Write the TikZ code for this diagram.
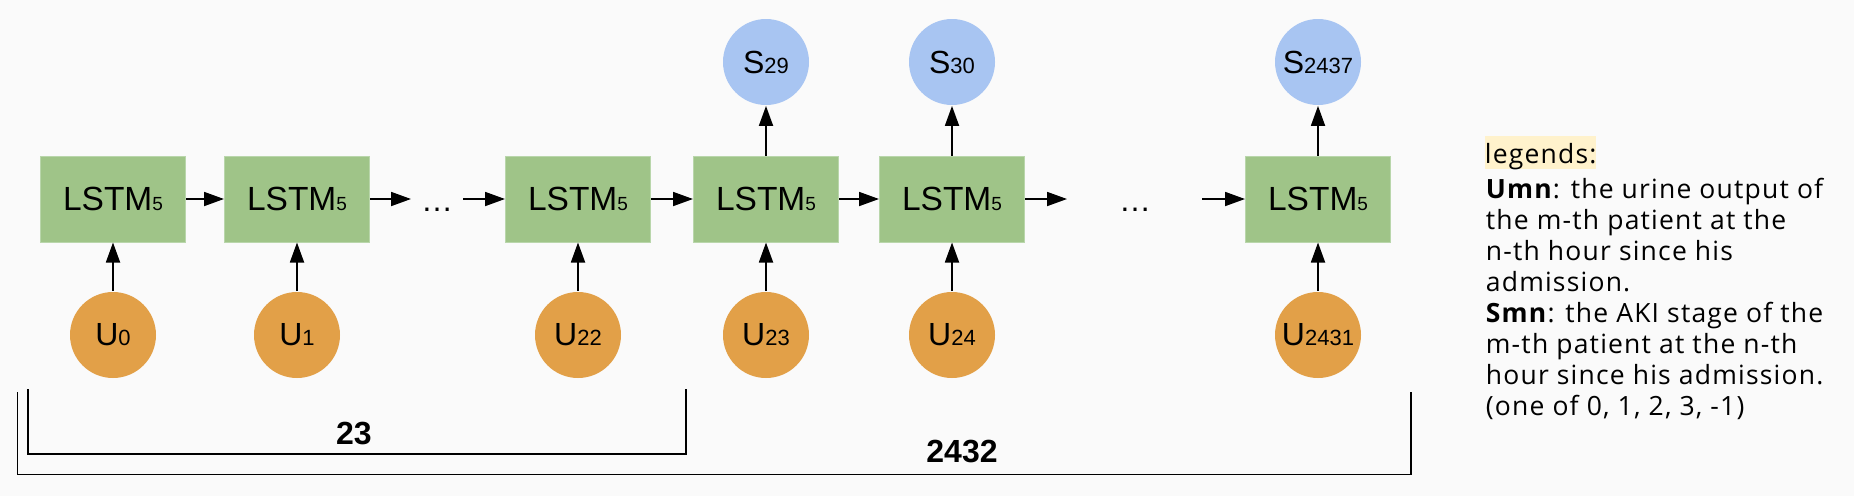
\documentclass[tikz,border=0pt]{standalone}
\usepackage{fontspec}
\setmainfont{Liberation Sans}
\newfontfamily\legendfont[LetterSpace=4.5]{Open Sans}
\usetikzlibrary{arrows.meta}

\definecolor{bgcol}{HTML}{FAFAFA}
\definecolor{lstmgreen}{HTML}{9FC488}
\definecolor{lstmedge}{HTML}{B9D6AB}
\definecolor{uorange}{HTML}{E2A048}
\definecolor{sblue}{HTML}{A8C5F2}
\definecolor{hlyellow}{HTML}{FFF2CC}

\newcommand{\lstmtext}{LSTM{\fontsize{19}{19}\selectfont 5}}
\newcommand{\idx}[1]{{\fontsize{22}{22}\selectfont #1}}

\begin{document}
\begin{tikzpicture}[x=1pt, y=-1pt, >={Triangle[length=20pt,width=14pt]}, line width=1.8pt,
		every node/.style={font=\fontsize{32}{32}\selectfont},
		lstm/.style={fill=lstmgreen, draw=lstmedge, line width=1pt, minimum width=145pt, minimum height=86pt, inner sep=0pt,
			font=\fontsize{33.5}{33.5}\selectfont},
		uin/.style={circle, fill=uorange, minimum size=86pt, inner sep=0pt},
		sout/.style={circle, fill=sblue, minimum size=86pt, inner sep=0pt},
		count/.style={font=\fontsize{32}{32}\selectfont\bfseries, inner sep=0pt}]
	
	% 背景
	\fill[bgcol] (0,0) rectangle (1854,496);
	\useasboundingbox (0,0) rectangle (1854,496);
	
	% ==================== LSTM 单元 ====================
	\node[lstm] (lstm0) at (113,199) {\lstmtext};
	\node[lstm] (lstm1) at (297,199) {\lstmtext};
	\node[lstm] (lstm22) at (578,199) {\lstmtext};
	\node[lstm] (lstm23) at (766,199) {\lstmtext};
	\node[lstm] (lstm24) at (952,199) {\lstmtext};
	\node[lstm] (lstm2431) at (1318,199) {\lstmtext};
	
	% 输入 (尿量)
	\node[uin] (u0) at (113,335) {U\idx{0}};
	\node[uin] (u1) at (297,335) {U\idx{1}};
	\node[uin] (u22) at (578,335) {U\idx{22}};
	\node[uin] (u23) at (766,335) {U\idx{23}};
	\node[uin] (u24) at (952,335) {U\idx{24}};
	\node[uin] (u2431) at (1318,335) {U\idx{2431}};
	
	% 输出 (AKI 分期)
	\node[sout] (s29) at (766,62) {S\idx{29}};
	\node[sout] (s30) at (952,62) {S\idx{30}};
	\node[sout] (s2437) at (1318,62) {S\idx{2437}};
	
	% 省略号
	\coordinate (gapa) at (411,199);
	\coordinate (gapb) at (463,199);
	\coordinate (gapc) at (1067,199);
	\coordinate (gapd) at (1202,199);
	\node[anchor=base] (dotsa) at (437,211) {\dots};
	\node[anchor=base] (dotsb) at (1135,211) {\dots};
	
	% 箭头
	\draw[->] (lstm0) -- (lstm1);
	\draw[->] (lstm1) -- (gapa);
	\draw[->] (gapb) -- (lstm22);
	\draw[->] (lstm22) -- (lstm23);
	\draw[->] (lstm23) -- (lstm24);
	\draw[->] (lstm24) -- (gapc);
	\draw[->] (gapd) -- (lstm2431);
	\draw[->] (u0) -- (lstm0);
	\draw[->] (u1) -- (lstm1);
	\draw[->] (u22) -- (lstm22);
	\draw[->] (u23) -- (lstm23);
	\draw[->] (u24) -- (lstm24);
	\draw[->] (u2431) -- (lstm2431);
	\draw[->] (lstm23) -- (s29);
	\draw[->] (lstm24) -- (s30);
	\draw[->] (lstm2431) -- (s2437);
	
	% ==================== 括号 ====================
	\draw (28,389) -- (28,454) -- (686,454) -- (686,389);
	\draw (17.5,392) -- (17.5,474.5) -- (1411,474.5) -- (1411,392);
	\node[count] (n23) at (354,433) {23};
	\node[count] (n2432) at (962,451) {2432};
	
	% ==================== 图例 ====================
	\node[anchor=base west, fill=hlyellow, inner xsep=0pt, inner ysep=0pt, text height=27pt, text depth=6pt,
		font=\legendfont\fontsize{26.5}{31}\selectfont] (legtitle) at (1484,163.3) {legends:};
	\node[anchor=north west, inner sep=0pt, align=left, font=\legendfont\fontsize{26.5}{31}\selectfont] (legbody) at (1485,177)
		{\textbf{Umn}: the urine output of\\
		the m-th patient at the\\
		n-th hour since his\\
		admission.\\
		\textbf{Smn}: the AKI stage of the\\
		m-th patient at the n-th\\
		hour since his admission.\\
		(one of 0, 1, 2, 3, -1)};
	
\end{tikzpicture}
\end{document}
